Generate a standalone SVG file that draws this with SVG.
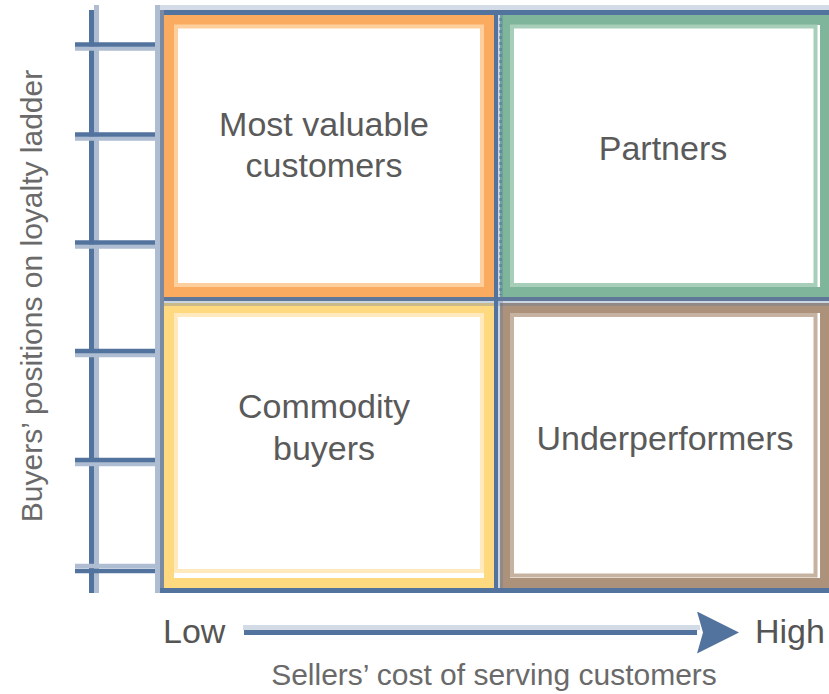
<svg xmlns="http://www.w3.org/2000/svg" width="829" height="694" viewBox="0 0 829 694">
  <style>
    .lbl { font-family: "Liberation Sans", Arial, sans-serif; font-size: 34px; fill: #5a5a5a; text-anchor: middle; }
    .axis { font-family: "Liberation Sans", Arial, sans-serif; font-size: 30px; fill: #6a6a6a; text-anchor: middle; }
    .end { font-family: "Liberation Sans", Arial, sans-serif; font-size: 34px; fill: #555555; }
    .blue { stroke: #52739e; }
    .pale { stroke: #aebdd1; }
  </style>
  <defs>
    <marker id="head" markerUnits="userSpaceOnUse" markerWidth="44" markerHeight="42" refX="0" refY="21" orient="auto">
      <polygon points="0,0 42,21 0,42 6,21" fill="#52739e"/>
    </marker>
  </defs>

  <rect width="829" height="694" fill="#ffffff"/>

  <!-- ladder: vertical rail and rungs -->
  <g id="ladder">
    <line x1="96.5" y1="5" x2="96.5" y2="593" class="pale" stroke-width="5"/>
    <line x1="91.5" y1="10" x2="91.5" y2="593" class="blue" stroke-width="5"/>
    <g stroke-width="4.5">
      <line x1="75" y1="48.5" x2="160" y2="48.5" class="pale"/>
      <line x1="75" y1="44.5" x2="160" y2="44.5" class="blue"/>
      <line x1="75" y1="138.5" x2="160" y2="138.5" class="pale"/>
      <line x1="75" y1="134.5" x2="160" y2="134.5" class="blue"/>
      <line x1="75" y1="246.5" x2="160" y2="246.5" class="pale"/>
      <line x1="75" y1="242.5" x2="160" y2="242.5" class="blue"/>
      <line x1="75" y1="355" x2="160" y2="355" class="pale"/>
      <line x1="75" y1="351" x2="160" y2="351" class="blue"/>
      <line x1="75" y1="464" x2="160" y2="464" class="pale"/>
      <line x1="75" y1="460" x2="160" y2="460" class="blue"/>
      <line x1="75" y1="566" x2="160" y2="566" class="pale"/>
      <line x1="75" y1="571" x2="160" y2="571" class="blue"/>
    </g>
  </g>

  <!-- quadrant: most valuable customers (top left) -->
  <g id="most-valuable">
    <rect x="169" y="20" width="320" height="272" fill="none" stroke="#fbab5f" stroke-width="10"/>
    <rect x="176" y="26.5" width="306" height="258.5" fill="none" stroke="#fdcf9c" stroke-width="4"/>
    <text class="lbl" x="324" y="136">Most valuable</text>
    <text class="lbl" x="324" y="177">customers</text>
  </g>

  <!-- quadrant: partners (top right) -->
  <g id="partners">
    <rect x="505" y="20" width="320" height="272" fill="none" stroke="#7fb59a" stroke-width="10"/>
    <rect x="512" y="26.5" width="303.5" height="258.5" fill="none" stroke="#a6ceb9" stroke-width="4"/>
    <text class="lbl" x="663" y="160">Partners</text>
  </g>

  <!-- quadrant: commodity buyers (bottom left) -->
  <g id="commodity">
    <rect x="169" y="308" width="320" height="275" fill="none" stroke="#ffd980" stroke-width="10"/>
    <rect x="176" y="315" width="306" height="256" fill="none" stroke="#ffe9bd" stroke-width="4"/>
    <text class="lbl" x="324" y="418">Commodity</text>
    <text class="lbl" x="324" y="460">buyers</text>
  </g>

  <!-- quadrant: underperformers (bottom right) -->
  <g id="underperformers">
    <rect x="505" y="308" width="320" height="275" fill="none" stroke="#ac927a" stroke-width="10"/>
    <rect x="512" y="315" width="303.5" height="260.5" fill="none" stroke="#c6b2a0" stroke-width="4"/>
    <text class="lbl" x="665" y="450">Underperformers</text>
  </g>

  <!-- grid frame and dividers -->
  <g id="frame">
    <line x1="155" y1="7.5" x2="829" y2="7.5" stroke="#d3dbe6" stroke-width="5"/>
    <line x1="157.5" y1="5" x2="157.5" y2="593" class="pale" stroke-width="5"/>
    <line x1="160" y1="12.5" x2="829" y2="12.5" class="blue" stroke-width="5"/>
    <line x1="162" y1="10" x2="162" y2="593" stroke="#7a8aa2" stroke-width="4"/>
    <line x1="160" y1="590.5" x2="829" y2="590.5" class="blue" stroke-width="5"/>
    <!-- soft shadow beside the dividers -->
    <rect x="498" y="15" width="5" height="573" fill="#52739e" opacity="0.3"/>
    <rect x="164" y="301" width="665" height="5" fill="#52739e" opacity="0.3"/>
    <line x1="500.5" y1="18" x2="500.5" y2="295" stroke="#52739e" stroke-width="3" stroke-dasharray="3 3" opacity="0.5"/>
    <line x1="164" y1="299" x2="829" y2="299" stroke="#5f7798" stroke-width="4"/>
    <line x1="496" y1="10" x2="496" y2="590" class="blue" stroke-width="4"/>
  </g>

  <!-- cost axis -->
  <g id="connectors">
    <line x1="243" y1="627.5" x2="700" y2="627.5" stroke="#d3dbe6" stroke-width="5"/>
    <line x1="244" y1="632.5" x2="697" y2="632.5" class="blue" stroke-width="5" marker-end="url(#head)"/>
  </g>

  <g id="axis-labels">
    <text class="end" x="163" y="643">Low</text>
    <text class="end" x="755" y="643">High</text>
    <text class="axis" x="494" y="685">Sellers’ cost of serving customers</text>
    <text class="axis" transform="translate(42 296) rotate(-90)">Buyers’ positions on loyalty ladder</text>
  </g>
</svg>
